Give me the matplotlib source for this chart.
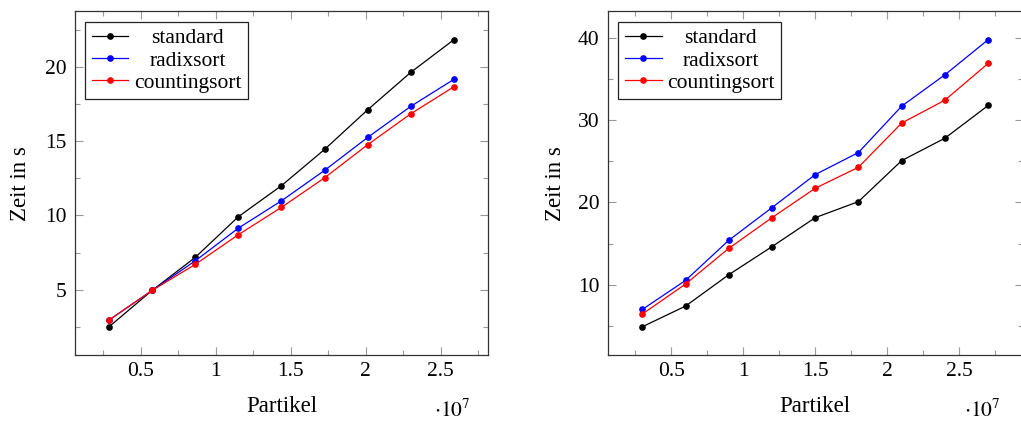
import matplotlib.pyplot as plt
import matplotlib.transforms as mtransforms
from matplotlib.ticker import MultipleLocator

plt.rcParams['font.family'] = ['Liberation Serif', 'DejaVu Serif']
plt.rcParams['mathtext.fontset'] = 'stix'

# Partikelanzahlen und Laufzeiten (s)
partikel_links = [2.875e6, 5.75e6, 8.625e6, 1.15e7, 1.4375e7, 1.725e7, 2.0125e7, 2.3e7, 2.5875e7]
standard_links = [2.50, 4.95, 7.17, 9.91, 12.0, 14.44, 17.11, 19.63, 21.83]
radix_links = [2.95, 4.95, 6.94, 9.14, 10.98, 13.03, 15.25, 17.34, 19.16]
counting_links = [2.95, 4.95, 6.70, 8.70, 10.54, 12.53, 14.76, 16.84, 18.66]

partikel_rechts = [3e6, 6e6, 9e6, 1.2e7, 1.5e7, 1.8e7, 2.1e7, 2.4e7, 2.7e7]
standard_rechts = [4.90, 7.41, 11.22, 14.63, 18.15, 20.10, 25.08, 27.80, 31.77]
radix_rechts = [7.0, 10.53, 15.40, 19.37, 23.38, 26.06, 31.69, 35.50, 39.76]
counting_rechts = [6.44, 10.09, 14.42, 18.15, 21.72, 24.27, 29.64, 32.42, 36.88]

namen = ['standard', 'radixsort', 'countingsort']
farben = ['black', 'blue', 'red']
fs = 15.5

fig = plt.figure(figsize=(10.21, 4.21), dpi=100)
ax1 = fig.add_axes([0.073, 0.1556, 0.4053, 0.8183])
ax2 = fig.add_axes([0.5952, 0.1556, 0.4065, 0.8183])


def zeichne(ax, x, reihen, ymajor, ylabel_x, exp_x):
    xs = [v / 1e7 for v in x]
    for werte, name, farbe in zip(reihen, namen, farben):
        ax.plot(xs, werte, color=farbe, lw=0.9, marker='o', ms=3.8, label=name)

    # Achsengrenzen wie bei pgfplots (10 % Rand)
    alle = [w for r in reihen for w in r]
    dx = (max(xs) - min(xs)) * 0.1
    dy = (max(alle) - min(alle)) * 0.1
    ax.set_xlim(min(xs) - dx, max(xs) + dx)
    ax.set_ylim(min(alle) - dy, max(alle) + dy)

    ax.xaxis.set_major_locator(MultipleLocator(0.5))
    ax.xaxis.set_minor_locator(MultipleLocator(0.25))
    ax.yaxis.set_major_locator(MultipleLocator(ymajor))
    ax.yaxis.set_minor_locator(MultipleLocator(ymajor / 2))
    ax.xaxis.set_major_formatter(plt.FuncFormatter(lambda v, p: f'{v:g}'))
    ax.tick_params(which='both', direction='in', top=True, right=True,
                   color='#999999', width=0.8, labelsize=fs)
    ax.tick_params(which='major', length=6)
    ax.tick_params(which='minor', length=3.5)
    ax.tick_params(axis='x', pad=5)
    ax.tick_params(axis='y', pad=6)
    for s in ax.spines.values():
        s.set_color('#333333')
        s.set_linewidth(0.9)

    ax.set_xlabel('Partikel', fontsize=fs + 1)
    ax.xaxis.set_label_coords(0.5, -0.118)
    ax.set_ylabel('Zeit in s', fontsize=fs + 1)
    ax.yaxis.set_label_coords(ylabel_x, 0.5)
    ax.text(exp_x, -0.16, r'$\cdot 10^{7}$', transform=ax.transAxes,
            fontsize=fs, ha='center', va='center')

    leg = ax.legend(loc='upper left', fontsize=fs, frameon=True, fancybox=False,
                    edgecolor='#222222', framealpha=1, borderaxespad=0.5,
                    handlelength=1.7, handletextpad=0.25, labelspacing=0.1,
                    borderpad=0.3)
    leg.get_frame().set_linewidth(0.9)
    return leg


leg1 = zeichne(ax1, partikel_links, [standard_links, radix_links, counting_links], 5, -0.105, 0.912)
leg2 = zeichne(ax2, partikel_rechts, [standard_rechts, radix_rechts, counting_rechts], 10, -0.100, 0.902)

# Legendentexte zentrieren
fig.canvas.draw()
renderer = fig.canvas.get_renderer()
for leg in (leg1, leg2):
    texte = leg.get_texts()
    breiten = [t.get_window_extent(renderer).width for t in texte]
    bmax = max(breiten)
    for t, b in zip(texte, breiten):
        t.set_transform(t.get_transform() + mtransforms.Affine2D().translate((bmax - b) / 2, 0))

fig.savefig('out.png', dpi=100)
